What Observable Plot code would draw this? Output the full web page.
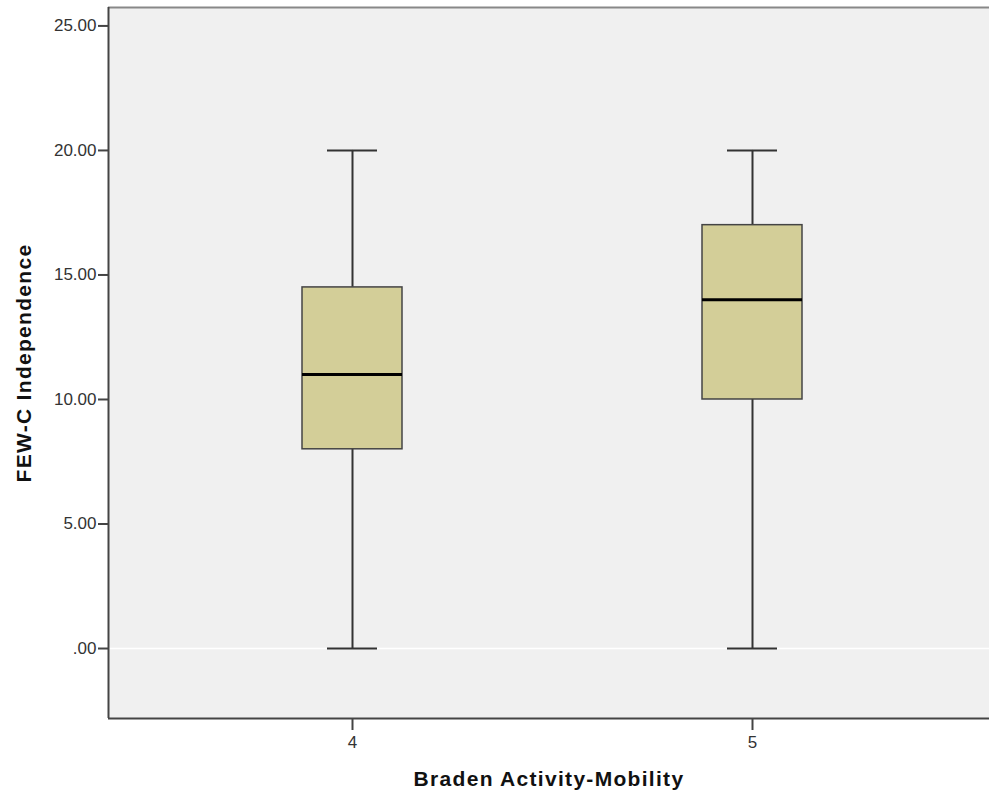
<!DOCTYPE html>
<html>
<head>
<meta charset="utf-8">
<script src="https://cdn.jsdelivr.net/npm/d3@7"></script>
<script src="https://cdn.jsdelivr.net/npm/@observablehq/plot@0.6"></script>
<style>
  html, body { margin: 0; padding: 0; background: white; overflow: hidden; }
  g[aria-label="x-axis label"] text, g[aria-label="y-axis label"] text { font-weight: bold; font-size: 21px; letter-spacing: 1.3px; fill: #111; }
</style>
</head>
<body>
<div id="chart"></div>
<script>
const categories = [4, 5];
const mins    = [0, 0];
const q1s     = [8, 10];
const medians = [11, 14];
const q3s     = [14.5, 17];
const maxs    = [20, 20];
const yTicks = [0, 5, 10, 15, 20, 25];
const yTickLabels = [".00", "5.00", "10.00", "15.00", "20.00", "25.00"];
const xTickLabels = ["4", "5"];

const data = categories.map((c, i) => ({cat: c, min: mins[i], q1: q1s[i], median: medians[i], q3: q3s[i], max: maxs[i]}));

const xDomain = [3.39, 5.5925];
const yDomain = [-2.81, 25.74];
const boxHalf = 0.125, capHalf = 0.0625;

const chart = Plot.plot({
  width: 989,
  height: 798,
  marginLeft: 108,
  marginTop: 7,
  marginBottom: 80,
  marginRight: 0,
  style: {background: "white", fontFamily: "'Liberation Sans', Arial, sans-serif", fontSize: "17px", color: "#333"},
  x: {type: "linear", domain: xDomain},
  y: {domain: yDomain},
  marks: [
    Plot.frame({fill: "#f0f0f0", stroke: null}),
    Plot.ruleY([0], {stroke: "white", strokeWidth: 1.5}),
    Plot.ruleX(data, {x: "cat", y1: "min", y2: "q1", stroke: "#333", strokeWidth: 2}),
    Plot.ruleX(data, {x: "cat", y1: "q3", y2: "max", stroke: "#333", strokeWidth: 2}),
    Plot.ruleY(data, {y: "min", x1: d => d.cat - capHalf, x2: d => d.cat + capHalf, stroke: "#333", strokeWidth: 2}),
    Plot.ruleY(data, {y: "max", x1: d => d.cat - capHalf, x2: d => d.cat + capHalf, stroke: "#333", strokeWidth: 2}),
    Plot.rect(data, {x1: d => d.cat - boxHalf, x2: d => d.cat + boxHalf, y1: "q1", y2: "q3", fill: "#d3ce98", stroke: "#444", strokeWidth: 1.5}),
    Plot.ruleY(data, {y: "median", x1: d => d.cat - boxHalf, x2: d => d.cat + boxHalf, stroke: "black", strokeWidth: 3}),
    Plot.ruleY([yDomain[1]], {stroke: "#888", strokeWidth: 2}),
    Plot.ruleY([yDomain[0]], {stroke: "#444", strokeWidth: 2}),
    Plot.ruleX([xDomain[0]], {stroke: "#444", strokeWidth: 2}),
    Plot.axisY({ticks: yTicks, tickFormat: d => yTickLabels[yTicks.indexOf(d)], tickSize: 10, tickPadding: 2, strokeWidth: 2, stroke: "#444",
      label: "FEW-C Independence", labelAnchor: "center", labelOffset: 92, labelArrow: "none"}),
    Plot.axisX({ticks: categories, tickFormat: d => xTickLabels[categories.indexOf(d)], tickSize: 12, tickPadding: 5, strokeWidth: 2, stroke: "#444",
      label: "Braden Activity-Mobility", labelAnchor: "center", labelOffset: 67, labelArrow: "none"})
  ]
});
document.getElementById("chart").appendChild(chart);
</script>
</body>
</html>
